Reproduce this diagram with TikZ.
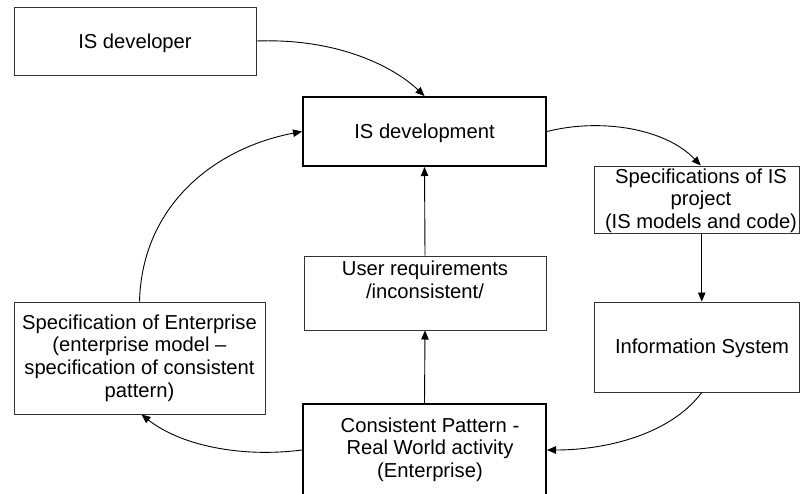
\documentclass[tikz,border=0pt]{standalone}
\usepackage{fontspec}
\setmainfont{Liberation Sans}
\usetikzlibrary{arrows.meta,calc}
\begin{document}
\begin{tikzpicture}[x=1pt,y=-1pt,
  every node/.style={font=\fontsize{20.2}{22.6}\selectfont, inner sep=0pt, align=center},
  plainbox/.style={draw=black!80, line width=1pt, rectangle},
  keybox/.style={draw=black, line width=2pt, rectangle},
  link/.style={draw=black, line width=0.9pt, -{Triangle[length=9pt,width=7.5pt]}},
]
\useasboundingbox (0,0) rectangle (800,493);
\clip (0,0) rectangle (800,493);
\fill[white] (0,0) rectangle (800,493);

% boxes
\node[plainbox, minimum width=242pt, minimum height=68pt, text depth=0pt] (dev) at (135,41) {IS developer};
\node[keybox, minimum width=243pt, minimum height=69pt, text depth=0pt] (isd) at (424.5,131.5) {IS development};

\node[plainbox, minimum width=205.5pt, minimum height=67pt] (spec) at (696.75,199.5) {};
\node (spec-t) at (701,200.75) {Specifications of IS\\project\\(IS models and code)};

\node[plainbox, minimum width=205.5pt, minimum height=90pt] (infs) at (696.75,347) {};
\node (infs-t) at (702,348) {Information System};

\node[plainbox, minimum width=242pt, minimum height=74pt] (ureq) at (425,293) {};
\node (ureq-t) at (425,280) {User requirements\\/inconsistent/};

\node[plainbox, minimum width=251pt, minimum height=112pt] (sent) at (139.5,358)
  {Specification of Enterprise\\(enterprise model –\\specification of consistent\\pattern)};

\node[keybox, minimum width=243pt, minimum height=92pt] (cp) at (424.5,450) {};
\node (cp-t) at (430,449.6) {Consistent Pattern -\\Real World activity\\(Enterprise)};

% connectors
\draw[link] (dev.east) .. controls (340,38) and (395,68) .. (isd.north);
\draw[link] (sent.north) .. controls (142,205) and (215,148) .. (isd.west);
\draw[link] (isd.east) .. controls (600,118) and (665,128) .. ([xshift=4pt]spec.north);
\draw[link] ([xshift=5pt]spec.south) -- ([xshift=5pt]infs.north);
\draw[link] ([xshift=5pt]infs.south) .. controls (670,435) and (605,450) .. (cp.east);
\draw[link] (cp.west) .. controls (240,458) and (180,445) .. ([xshift=2pt]sent.south);
\draw[link] (cp.north) -- (ureq.south);
\draw[link] (ureq.north) -- (isd.south);
\end{tikzpicture}
\end{document}
